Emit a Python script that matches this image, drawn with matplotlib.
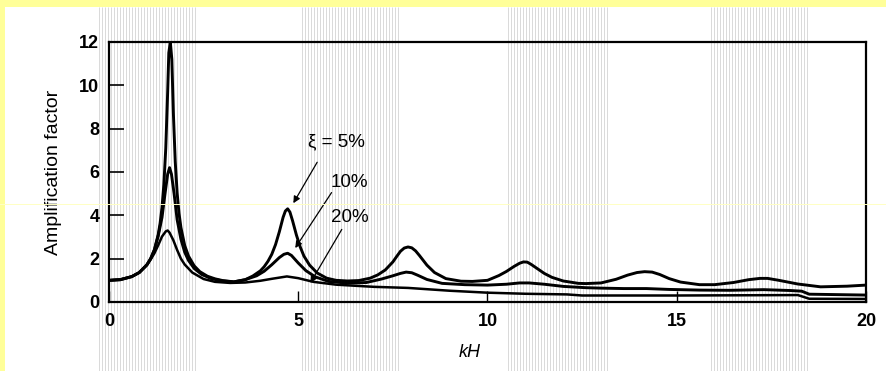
import matplotlib
matplotlib.use("Agg")
import matplotlib.pyplot as plt
from matplotlib.collections import LineCollection
from matplotlib.patches import Rectangle
from matplotlib.lines import Line2D

plt.rcParams['font.family'] = ['Liberation Sans', 'DejaVu Sans']

# ---- data ----
kh_5 = [0, 0.3, 0.6, 0.8, 1.0, 1.1, 1.2, 1.3, 1.35, 1.4, 1.45, 1.5, 1.55, 1.58, 1.62,
        1.66, 1.7, 1.75, 1.8, 1.85, 1.9, 2.0, 2.1, 2.25, 2.4, 2.6, 2.8, 3.0, 3.3,
        3.6, 3.8, 4.0, 4.1, 4.2, 4.3, 4.4, 4.5, 4.6, 4.66, 4.72, 4.78, 4.85, 4.95, 5.05,
        5.15, 5.3, 5.5, 5.75, 6.0, 6.3, 6.6, 6.9, 7.1, 7.3, 7.5, 7.6, 7.7, 7.8, 7.9,
        8.0, 8.1, 8.2, 8.4, 8.6, 8.9, 9.3, 9.6, 10.0, 10.3, 10.5, 10.7, 10.85, 10.95,
        11.05, 11.15, 11.3, 11.5, 11.7, 12.0, 12.4, 12.6, 13.0, 13.4, 13.7, 13.95, 14.15,
        14.35, 14.55, 14.8, 15.1, 15.6, 16.0, 16.5, 16.9, 17.2, 17.4, 17.7, 18.2, 18.8,
        19.5, 20.0]
amp_5 = [1.0, 1.03, 1.17, 1.36, 1.71, 2.0, 2.42, 3.11, 3.63, 4.36, 5.44, 7.1, 9.7, 11.5, 12.0,
         11.2, 8.75, 6.48, 5.04, 4.09, 3.44, 2.61, 2.12, 1.67, 1.40, 1.19, 1.07, 0.99, 0.93,
         1.03, 1.2, 1.44, 1.63, 1.88, 2.2, 2.65, 3.24, 3.91, 4.2, 4.3, 4.15, 3.75, 3.1, 2.55,
         2.12, 1.7, 1.34, 1.1, 1.0, 0.97, 0.99, 1.1, 1.25, 1.48, 1.85, 2.1, 2.34, 2.49, 2.54,
         2.5, 2.36, 2.15, 1.7, 1.36, 1.08, 0.96, 0.95, 1.0, 1.22, 1.41, 1.64, 1.79, 1.85,
         1.84, 1.74, 1.56, 1.32, 1.14, 0.97, 0.86, 0.85, 0.88, 1.05, 1.24, 1.36, 1.40,
         1.38, 1.27, 1.08, 0.92, 0.8, 0.8, 0.9, 1.03, 1.09, 1.09, 1.0, 0.83, 0.7,
         0.73, 0.78]

kh_10 = [0, 0.3, 0.6, 0.8, 1.0, 1.1, 1.2, 1.3, 1.4, 1.48, 1.55, 1.6, 1.65, 1.72, 1.8,
         1.9, 2.0, 2.1, 2.25, 2.45, 2.7, 3.0, 3.3, 3.6, 3.9, 4.1, 4.3, 4.5, 4.62, 4.72,
         4.82, 5.0, 5.2, 5.45, 5.8, 6.3, 6.8, 7.2, 7.5, 7.7, 7.85, 8.0, 8.15, 8.4, 8.8, 9.4,
         10.0, 10.5, 10.85, 11.1, 11.5, 12.0, 12.6, 13.0, 13.6, 14.2, 14.8, 15.6, 16.4, 17.3,
         18.0, 18.3, 18.5, 20.0]
amp_10 = [1.0, 1.03, 1.17, 1.36, 1.72, 2.0, 2.4, 3.05, 3.9, 5.0, 5.9, 6.2, 5.9, 5.0, 3.8,
          2.9, 2.3, 1.92, 1.55, 1.27, 1.08, 0.97, 0.93, 1.03, 1.21, 1.42, 1.72, 2.05, 2.2, 2.25,
          2.15, 1.8, 1.45, 1.16, 0.95, 0.87, 0.9, 1.06, 1.21, 1.32, 1.38, 1.35, 1.24, 1.04, 0.86,
          0.8, 0.78, 0.82, 0.88, 0.88, 0.82, 0.72, 0.66, 0.64, 0.62, 0.62, 0.58, 0.55, 0.54,
          0.57, 0.53, 0.5, 0.36, 0.32]

kh_20 = [0, 0.3, 0.6, 0.8, 1.0, 1.1, 1.2, 1.3, 1.4, 1.5, 1.55, 1.6, 1.7, 1.8, 1.9, 2.0,
         2.2, 2.5, 2.8, 3.2, 3.6, 4.0, 4.3, 4.7, 5.0, 5.4, 6.0, 7.0, 7.9, 9.0, 10.0,
         11.0, 12.1, 12.5, 15.0, 18.2, 18.5, 20.0]
amp_20 = [1.0, 1.04, 1.18, 1.36, 1.7, 1.96, 2.25, 2.62, 3.02, 3.26, 3.3, 3.2, 2.85, 2.4, 2.0, 1.73,
          1.36, 1.06, 0.93, 0.88, 0.9, 0.98, 1.07, 1.18, 1.1, 0.93, 0.8, 0.7, 0.65, 0.52, 0.43,
          0.38, 0.35, 0.3, 0.3, 0.32, 0.15, 0.14]

labels = ["\u03be = 5%", "10%", "20%"]
xticks = [0, 5, 10, 15, 20]
yticks = [0, 2, 4, 6, 8, 10, 12]

# ---- figure ----
W, H = 886, 371
fig = plt.figure(figsize=(W / 100, H / 100), dpi=100)
fig.patch.set_facecolor('white')

# scan background: striped grey bands, yellow border
bands = [(99, 197), (302, 400), (508, 607), (711, 809)]
segs = []
for a, b in bands:
    x = a
    while x <= b:
        segs.append([(x / W, 0), (x / W, (H - 7) / H)])
        x += 3
fig.add_artist(LineCollection(segs, colors='#dadada', linewidths=0.72,
                              transform=fig.transFigure, zorder=-2))
yel = '#ffff99'
fig.add_artist(Rectangle((0, 0), 5 / W, 1, transform=fig.transFigure,
                         facecolor=yel, edgecolor='none', zorder=-1))
fig.add_artist(Rectangle((0, (H - 7) / H), 1, 7 / H, transform=fig.transFigure,
                         facecolor=yel, edgecolor='none', zorder=-1))
fig.add_artist(Line2D([0, 1], [(H - 204) / H] * 2, transform=fig.transFigure,
                      color='#ffffc4', lw=0.7, zorder=5))

ax = fig.add_axes([109 / W, 69 / H, 757 / W, 260 / H])
ax.set_facecolor('none')

ax.plot(kh_5, amp_5, color='black', lw=2.1, solid_joinstyle='round', solid_capstyle='round')
ax.plot(kh_10, amp_10, color='black', lw=2.1, solid_joinstyle='round', solid_capstyle='round')
ax.plot(kh_20, amp_20, color='black', lw=1.8, solid_joinstyle='round', solid_capstyle='round')

ax.set_xlim(0, 20)
ax.set_ylim(0, 12)
ax.set_xticks(xticks)
ax.set_yticks(yticks)
for s in ax.spines.values():
    s.set_linewidth(1.6)
ax.tick_params(axis='y', direction='in', length=11, width=1.2, pad=7, labelsize=13)
ax.tick_params(axis='x', direction='in', length=8, width=1.0, pad=8, labelsize=13)
for t in ax.get_xticklabels() + ax.get_yticklabels():
    t.set_fontweight('bold')

ax.set_ylabel("Amplification factor", fontsize=14)
ax.yaxis.set_label_coords(-(109 - 62) / 757, 0.5)
ax.set_xlabel("kH", fontsize=13, style='italic')
ax.xaxis.set_label_coords((470 - 109) / 757, -(344 - 302) / 260)

arrow = dict(arrowstyle='-|>', color='black', lw=0.9, mutation_scale=10, shrinkA=0, shrinkB=0)
fs = 13.5
ax.annotate(labels[0], xy=(4.87, 4.56), xytext=(6.0, 7.4), fontsize=fs,
            ha='center', va='center')
ax.annotate("", xy=(4.87, 4.56), xytext=(5.5, 6.45), arrowprops=arrow)
ax.annotate(labels[1], xy=(4.92, 2.49), xytext=(6.35, 5.5), fontsize=fs,
            ha='center', va='center')
ax.annotate("", xy=(4.92, 2.49), xytext=(5.88, 5.05), arrowprops=arrow)
ax.annotate(labels[2], xy=(5.32, 0.88), xytext=(6.35, 3.9), fontsize=fs,
            ha='center', va='center')
ax.annotate("", xy=(5.32, 0.88), xytext=(6.15, 3.35), arrowprops=arrow)

fig.savefig("out.png", dpi=100)
